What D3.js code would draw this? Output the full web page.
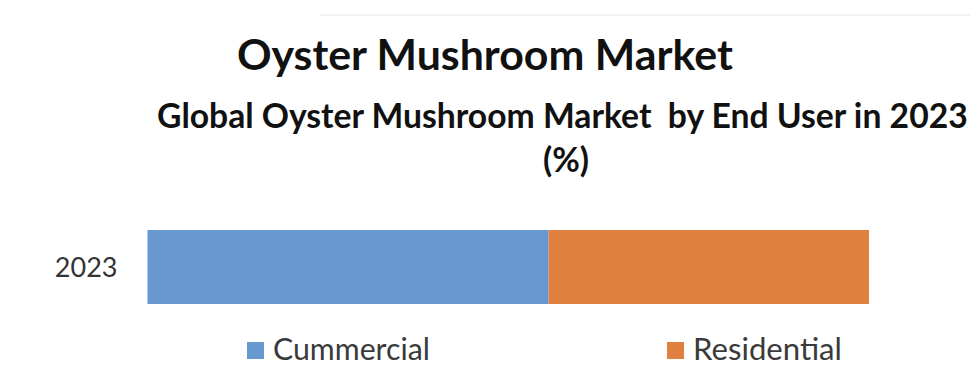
<!DOCTYPE html>
<html>
<head>
<meta charset="utf-8">
<script src="https://cdn.jsdelivr.net/npm/d3@7"></script>
<style>
  html, body { margin: 0; padding: 0; background: #ffffff; }
  svg { display: block; }
  text { font-family: Lato, "Noto Sans", "DejaVu Sans", sans-serif; white-space: pre; }
</style>
</head>
<body>
<svg id="chart" width="970" height="367"></svg>
<script>
// Data: share of the global oyster mushroom market by end user, 2023 (%)
const categories = ["2023"];
const seriesNames = ["Cummercial", "Residential"];
const seriesValues = [55.6, 44.4];
const seriesColors = ["#6798cf", "#e0803f"];

const titleText = "Oyster Mushroom Market";
const subtitleText = "Global Oyster Mushroom Market  by End User in 2023";
const unitText = "(%)";

const svg = d3.select("#chart");
const W = 970, H = 367;

svg.append("rect").attr("width", W).attr("height", H).attr("fill", "#ffffff");

// faint header rule
svg.append("line")
  .attr("x1", 320).attr("x2", 970).attr("y1", 15).attr("y2", 15)
  .attr("stroke", "#f2f2f2").attr("stroke-width", 2);

// Scale a text's font size so it spans the given width
function fitWidth(sel, target) {
  const fs = parseFloat(sel.attr("font-size"));
  const w = sel.node().getComputedTextLength();
  sel.attr("font-size", (fs * target / w).toFixed(2));
  return sel;
}

// Titles
const title = svg.append("text")
  .attr("x", 237).attr("y", 70)
  .attr("font-size", 40).attr("font-weight", 700)
  .attr("fill", "#111111")
  .text(titleText);
fitWidth(title, 496);

const subtitle = svg.append("text")
  .attr("x", 157).attr("y", 128)
  .attr("font-size", 26).attr("font-weight", 700)
  .attr("fill", "#111111")
  .text(subtitleText);
fitWidth(subtitle, 811);

svg.append("text")
  .attr("x", 566).attr("y", 172)
  .attr("text-anchor", "middle")
  .attr("font-size", subtitle.attr("font-size")).attr("font-weight", 700)
  .attr("fill", "#111111")
  .text(unitText);

// Scales
const x = d3.scaleLinear().domain([0, 100]).range([147.5, 869]);
const y = d3.scaleBand().domain(categories).range([230, 304]).padding(0);

// Stack the series
const rows = categories.map(c => {
  const r = { category: c };
  seriesNames.forEach((s, i) => { r[s] = seriesValues[i]; });
  return r;
});
const stacked = d3.stack().keys(seriesNames)(rows);
const color = d3.scaleOrdinal().domain(seriesNames).range(seriesColors);

svg.append("g")
  .selectAll("g")
  .data(stacked)
  .join("g")
  .attr("fill", d => color(d.key))
  .selectAll("rect")
  .data(d => d)
  .join("rect")
  .attr("x", d => x(d[0]))
  .attr("y", d => y(d.data.category))
  .attr("width", d => x(d[1]) - x(d[0]))
  .attr("height", y.bandwidth());

// Category axis
const yAxis = svg.append("g")
  .attr("transform", `translate(${x(0)},0)`)
  .call(d3.axisLeft(y).tickSize(0).tickPadding(30));
yAxis.select(".domain").remove();
yAxis.selectAll("text")
  .attr("font-family", "Lato, 'Noto Sans', sans-serif")
  .attr("font-size", 27)
  .attr("fill", "#333333")
  .attr("dy", "0.36em");

// Legend
const legendX = [247, 667];
const legendLabelW = [157, 149];
const legend = svg.append("g")
  .selectAll("g")
  .data(seriesNames)
  .join("g")
  .attr("transform", (d, i) => `translate(${legendX[i]},342)`);

legend.append("rect")
  .attr("width", 17).attr("height", 17)
  .attr("fill", d => color(d));

legend.append("text")
  .attr("x", 26).attr("y", 18)
  .attr("font-size", 27)
  .attr("fill", "#3a3a3a")
  .text(d => d)
  .each(function(d, i) { fitWidth(d3.select(this), legendLabelW[i]); });
</script>
</body>
</html>
